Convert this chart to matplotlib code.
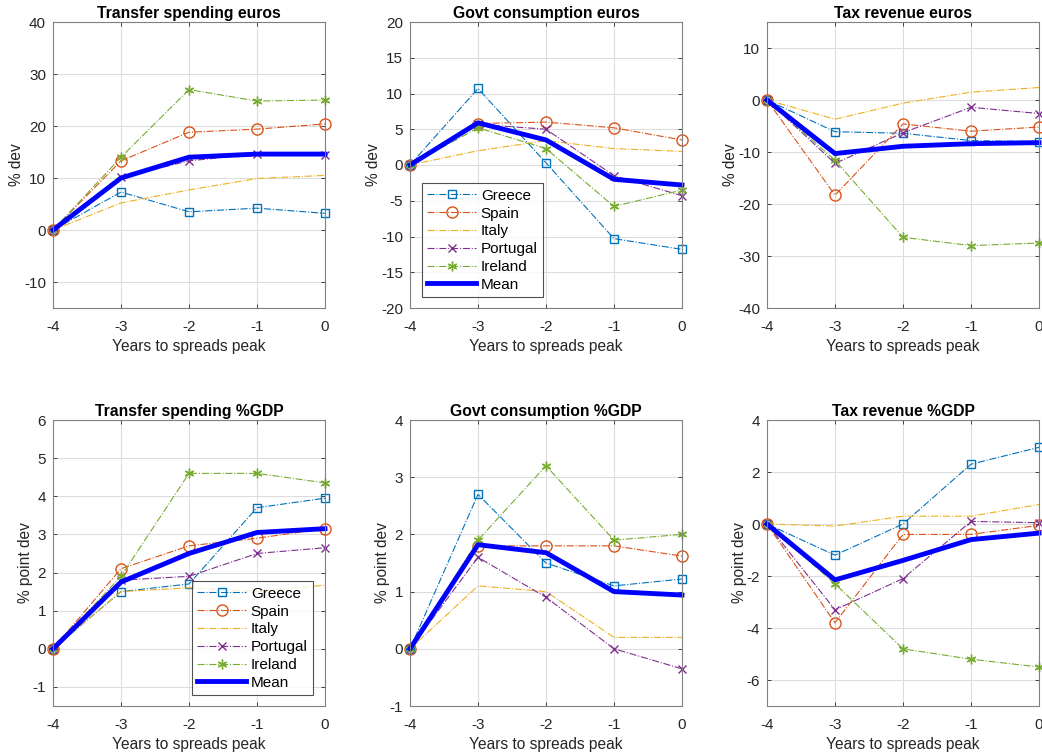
import matplotlib
matplotlib.use("Agg")
import matplotlib.pyplot as plt

plt.rcParams['font.family'] = ['Liberation Sans', 'DejaVu Sans']
plt.rcParams['axes.unicode_minus'] = False

years = [-4, -3, -2, -1, 0]
countries = ["Greece", "Spain", "Italy", "Portugal", "Ireland"]

# Panel data: each dict maps country -> values at years -4..0
transfer_eur = {
    "Greece":   [0, 7.3, 3.5, 4.2, 3.2],
    "Spain":    [0, 13.3, 18.8, 19.4, 20.4],
    "Italy":    [0, 5.2, 7.7, 9.9, 10.5],
    "Portugal": [0, 10.1, 13.3, 14.6, 14.4],
    "Ireland":  [0, 14.0, 27.0, 24.8, 25.0],
}
transfer_eur_mean = [0, 10.0, 14.0, 14.6, 14.6]

govcons_eur = {
    "Greece":   [0, 10.7, 0.3, -10.3, -11.8],
    "Spain":    [0, 5.8, 6.0, 5.2, 3.5],
    "Italy":    [0, 2.0, 3.4, 2.3, 1.9],
    "Portugal": [0, 5.7, 5.0, -1.5, -4.3],
    "Ireland":  [0, 5.2, 2.3, -5.8, -3.5],
}
govcons_eur_mean = [0, 5.9, 3.5, -2.0, -2.8]

tax_eur = {
    "Greece":   [0, -6.1, -6.4, -7.8, -8.0],
    "Spain":    [0, -18.3, -4.6, -6.0, -5.2],
    "Italy":    [0, -3.7, -0.6, 1.5, 2.4],
    "Portugal": [0, -12.2, -6.3, -1.4, -2.6],
    "Ireland":  [0, -11.6, -26.4, -28.0, -27.5],
}
tax_eur_mean = [0, -10.3, -8.9, -8.4, -8.2]

transfer_gdp = {
    "Greece":   [0, 1.5, 1.7, 3.7, 3.95],
    "Spain":    [0, 2.1, 2.7, 2.9, 3.15],
    "Italy":    [0, 1.5, 1.6, 1.5, 1.67],
    "Portugal": [0, 1.8, 1.9, 2.5, 2.65],
    "Ireland":  [0, 1.9, 4.6, 4.6, 4.35],
}
transfer_gdp_mean = [0, 1.75, 2.5, 3.05, 3.15]

govcons_gdp = {
    "Greece":   [0, 2.7, 1.5, 1.1, 1.22],
    "Spain":    [0, 1.8, 1.8, 1.8, 1.62],
    "Italy":    [0, 1.1, 1.0, 0.2, 0.2],
    "Portugal": [0, 1.6, 0.9, 0.0, -0.35],
    "Ireland":  [0, 1.9, 3.2, 1.9, 2.0],
}
govcons_gdp_mean = [0, 1.82, 1.68, 1.0, 0.94]

tax_gdp = {
    "Greece":   [0, -1.2, 0.0, 2.3, 2.95],
    "Spain":    [0, -3.8, -0.4, -0.4, -0.05],
    "Italy":    [0, -0.08, 0.3, 0.3, 0.75],
    "Portugal": [0, -3.3, -2.1, 0.1, 0.05],
    "Ireland":  [0, -2.3, -4.8, -5.2, -5.5],
}
tax_gdp_mean = [0, -2.15, -1.4, -0.6, -0.35]

titles = ["Transfer spending euros", "Govt consumption euros", "Tax revenue euros",
          "Transfer spending %GDP", "Govt consumption %GDP", "Tax revenue %GDP"]

styles = {
    "Greece":   dict(color="#0072BD", marker="s", ms=6),
    "Spain":    dict(color="#D95319", marker="o", ms=8),
    "Italy":    dict(color="#EDB120", marker=None, ms=6),
    "Portugal": dict(color="#7E2F8E", marker="x", ms=5.5),
    "Ireland":  dict(color="#77AC30", marker=(6, 2, 0), ms=7),
}

panels = [
    (transfer_eur, transfer_eur_mean, (-15, 40), [-10, 0, 10, 20, 30, 40], "% dev"),
    (govcons_eur, govcons_eur_mean, (-20, 20), list(range(-20, 21, 5)), "% dev"),
    (tax_eur, tax_eur_mean, (-40, 15), [-40, -30, -20, -10, 0, 10], "% dev"),
    (transfer_gdp, transfer_gdp_mean, (-1.5, 6), list(range(-1, 7)), "% point dev"),
    (govcons_gdp, govcons_gdp_mean, (-1, 4), list(range(-1, 5)), "% point dev"),
    (tax_gdp, tax_gdp_mean, (-7, 4), [-6, -4, -2, 0, 2, 4], "% point dev"),
]

fig = plt.figure(figsize=(10.42, 7.55), dpi=100)
W, H = 1042, 755
lefts = [53, 410, 767]
tops = [22, 420]
aw, ah = 272, 286

spine_col = "#262626"
for i, (data, mean, ylim, yticks, ylabel) in enumerate(panels):
    r, c = divmod(i, 3)
    ax = fig.add_axes([lefts[c] / W, (H - tops[r] - ah) / H, aw / W, ah / H])
    for cn in countries:
        st = styles[cn]
        ax.plot(years, data[cn], linestyle="-.", lw=0.8, color=st["color"],
                marker=st["marker"], ms=st["ms"], mfc="none", mew=1.0, label=cn,
                clip_on=False)
    ax.plot(years, mean, "-", color="#0000FF", lw=3.5, label="Mean", clip_on=False)
    ax.set_xlim(-4, 0)
    ax.set_ylim(*ylim)
    ax.set_xticks(years)
    ax.set_yticks(yticks)
    ax.grid(True, color="#DDDDDD", lw=0.8)
    ax.set_axisbelow(True)
    ax.tick_params(direction="in", top=True, right=True, labelsize=11,
                   colors=spine_col, length=3, width=0.6)
    ax.tick_params(axis="x", pad=8.5)
    ax.tick_params(axis="y", pad=5)
    for s in ax.spines.values():
        s.set_color("#808080")
        s.set_linewidth(0.8)
    ax.set_title(titles[i], fontsize=11.3, fontweight="bold", pad=3)
    ax.set_ylabel(ylabel, fontsize=11.2, color=spine_col, labelpad=0)
    ax.set_xlabel("Years to spreads peak", fontsize=11.2, color=spine_col, labelpad=3.5)
    if i in (1, 3):
        if i == 1:
            kw = dict(loc="lower left", bbox_to_anchor=(0.044, 0.038))
        else:
            kw = dict(loc="lower right", bbox_to_anchor=(0.956, 0.038))
        leg = ax.legend(borderaxespad=0, fontsize=11, fancybox=False,
                        edgecolor="#262626", handlelength=3.2, labelspacing=0.25,
                        borderpad=0.35, handletextpad=0.3, **kw)
        leg.get_frame().set_linewidth(0.8)

fig.savefig("out.png", dpi=100)
